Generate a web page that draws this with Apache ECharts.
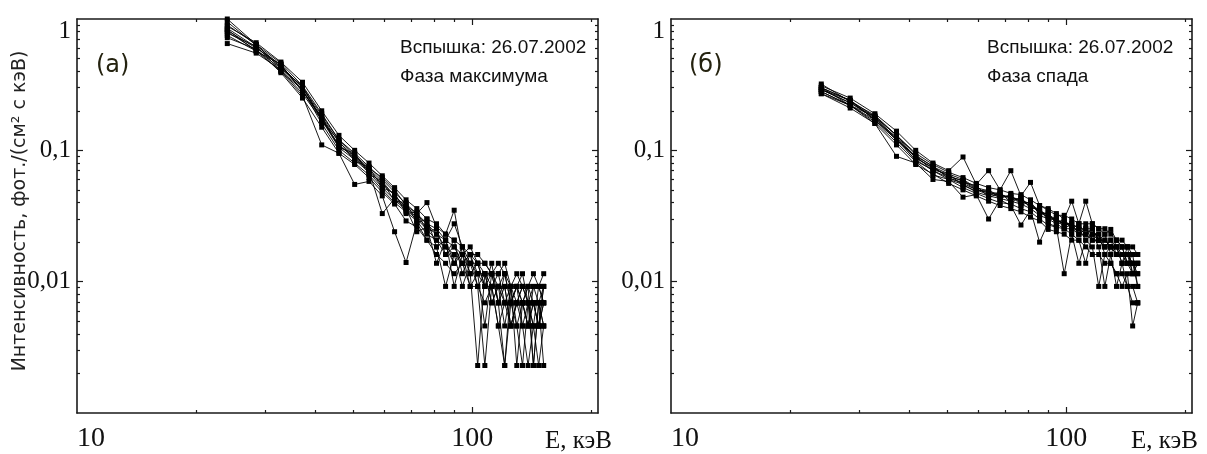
<!DOCTYPE html>
<html><head><meta charset="utf-8">
<script src="https://cdn.jsdelivr.net/npm/echarts@6/dist/echarts.min.js"></script>
<style>html,body{margin:0;padding:0;background:#fff}#c{width:1207px;height:454px}</style>
</head><body><div id="c"></div>
<script>
// Energy channels, keV
const energies = [24, 28.4, 32.8, 37.2, 41.6, 46, 50.4, 54.8, 59.2, 63.6, 68, 72.4, 76.8, 81.2, 85.6, 90, 94.4, 98.8, 103.2, 107.6, 112, 116.4, 120.8, 125.2, 129.6, 134, 138.4, 142.8, 147.2, 151.6];

// Tick labels / ticks
const xTickLabels = [10, 100];
const xMajorTicks = [100];
const xMinorTicks = [20, 30, 40, 50, 60, 70, 80, 90, 200];
const yTickLabels = [0.01, 0.1, 1];
const yMajorTicks = [0.01, 0.1];
const yMinorTicks = [0.002, 0.003, 0.004, 0.005, 0.006, 0.007, 0.008, 0.009, 0.02, 0.03, 0.04, 0.05, 0.06, 0.07, 0.08, 0.09, 0.2, 0.3, 0.4, 0.5, 0.6, 0.7, 0.8, 0.9];

// Panel (а): phase of maximum
const peak1 = [0.82,0.60,0.45,0.28,0.18,0.115,0.09,0.072,0.058,0.045,0.037,0.032,0.0276,0.023,0.0207,0.0184,0.0161,0.0138,0.0115,0.0115,0.0092,0.0092,0.0069,0.0092,0.0069,0.0069,0.0046,0.0069,0.0069,0.0046];
const peak2 = [0.78,0.62,0.40,0.29,0.16,0.10,0.08,0.065,0.05,0.04,0.034,0.029,0.023,0.0207,0.0161,0.0184,0.0138,0.0161,0.0115,0.0092,0.0115,0.0069,0.0092,0.0046,0.0069,0.0092,0.0069,0.0046,0.0092,0.0069];
const peak3 = [0.90,0.64,0.46,0.31,0.19,0.12,0.095,0.075,0.06,0.048,0.039,0.033,0.0276,0.0253,0.0207,0.0276,0.0184,0.0138,0.0138,0.0115,0.0115,0.0092,0.0115,0.0069,0.0092,0.0069,0.0092,0.0069,0.0046,0.0092];
const peak4 = [0.65,0.55,0.41,0.27,0.17,0.105,0.085,0.068,0.052,0.042,0.035,0.030,0.025,0.0207,0.0184,0.0138,0.0161,0.0115,0.0023,0.0115,0.0069,0.0092,0.0046,0.0092,0.0023,0.0069,0.0046,0.0092,0.0069,0.0023];
const peak5 = [0.85,0.61,0.43,0.30,0.175,0.108,0.09,0.07,0.055,0.046,0.036,0.031,0.026,0.023,0.0184,0.0161,0.0138,0.0161,0.0138,0.0092,0.0092,0.0115,0.0069,0.0069,0.0092,0.0046,0.0069,0.0069,0.0046,0.0069];
const peak6 = [0.80,0.58,0.42,0.29,0.17,0.11,0.087,0.07,0.033,0.043,0.036,0.024,0.026,0.0138,0.0207,0.0092,0.0161,0.0092,0.0115,0.0046,0.0115,0.0069,0.0023,0.0092,0.0046,0.0069,0.0092,0.0023,0.0069,0.0092];
const peak7 = [0.95,0.63,0.44,0.30,0.185,0.12,0.092,0.073,0.062,0.05,0.038,0.033,0.040,0.026,0.023,0.035,0.0161,0.0184,0.0138,0.0138,0.0115,0.0115,0.0138,0.0092,0.0115,0.0092,0.0092,0.0115,0.0092,0.0115];
const peak8 = [0.75,0.57,0.40,0.26,0.11,0.095,0.055,0.058,0.045,0.024,0.014,0.028,0.0207,0.0184,0.0092,0.0161,0.0092,0.0138,0.0092,0.0023,0.0092,0.0046,0.0023,0.0069,0.0046,0.0023,0.0069,0.0023,0.0069,0.0046];
const peak9 = [0.88,0.66,0.47,0.33,0.20,0.13,0.10,0.08,0.064,0.052,0.042,0.036,0.030,0.0276,0.023,0.0207,0.0184,0.0161,0.0161,0.0138,0.0115,0.0138,0.0115,0.0092,0.0092,0.0115,0.0069,0.0092,0.0092,0.0069];
const peak10 = [0.72,0.59,0.39,0.25,0.15,0.095,0.078,0.062,0.048,0.039,0.029,0.026,0.0207,0.0161,0.0138,0.0115,0.0138,0.0092,0.0092,0.0069,0.0092,0.0046,0.0069,0.0046,0.0069,0.0046,0.0023,0.0046,0.0046,0.0069];
const peak11 = [0.83,0.57,0.45,0.28,0.18,0.105,0.095,0.066,0.058,0.041,0.040,0.028,0.030,0.0184,0.0207,0.0138,0.0184,0.0115,0.0138,0.0092,0.0138,0.0069,0.0115,0.0069,0.0092,0.0069,0.0046,0.0069,0.0046,0.0092];
const peak12 = [1.0,0.64,0.42,0.31,0.17,0.118,0.083,0.074,0.052,0.047,0.033,0.034,0.024,0.0253,0.0161,0.0207,0.0115,0.0161,0.0092,0.0115,0.0069,0.0092,0.0092,0.0046,0.0069,0.0092,0.0069,0.0046,0.0023,0.0046];

// Panel (б): decay phase
const decay1 = [0.30,0.24,0.18,0.13,0.092,0.075,0.066,0.06,0.052,0.049,0.046,0.044,0.042,0.039,0.035,0.032,0.030,0.0276,0.0276,0.0253,0.023,0.0253,0.0207,0.0207,0.0184,0.0184,0.0161,0.0161,0.0138,0.0138];
const decay2 = [0.28,0.22,0.17,0.12,0.085,0.07,0.06,0.055,0.048,0.045,0.043,0.041,0.039,0.036,0.032,0.030,0.0276,0.0253,0.0253,0.023,0.023,0.0207,0.0207,0.0184,0.0184,0.0161,0.0161,0.0138,0.0115,0.0115];
const decay3 = [0.31,0.25,0.19,0.14,0.10,0.08,0.07,0.089,0.055,0.07,0.05,0.07,0.045,0.057,0.038,0.036,0.033,0.030,0.041,0.0276,0.041,0.0276,0.0253,0.023,0.025,0.0207,0.0184,0.0184,0.0161,0.0161];
const decay4 = [0.27,0.21,0.16,0.09,0.08,0.06,0.058,0.044,0.046,0.030,0.042,0.038,0.027,0.035,0.020,0.028,0.026,0.0115,0.023,0.0207,0.0138,0.023,0.0184,0.0092,0.0161,0.0092,0.0138,0.0092,0.0069,0.0069];
const decay5 = [0.29,0.23,0.175,0.125,0.088,0.073,0.064,0.058,0.05,0.048,0.045,0.044,0.041,0.038,0.034,0.031,0.029,0.028,0.0276,0.0253,0.0253,0.023,0.0207,0.0207,0.0184,0.0161,0.0161,0.0161,0.0138,0.0115];
const decay6 = [0.30,0.24,0.17,0.12,0.09,0.07,0.062,0.056,0.05,0.046,0.048,0.04,0.044,0.036,0.036,0.029,0.031,0.0253,0.0276,0.023,0.0253,0.0207,0.023,0.0184,0.0207,0.0184,0.0138,0.0184,0.0115,0.0138];
const decay7 = [0.29,0.23,0.18,0.13,0.087,0.074,0.063,0.059,0.051,0.047,0.044,0.045,0.04,0.04,0.033,0.033,0.028,0.030,0.0253,0.0276,0.023,0.0253,0.0207,0.023,0.0161,0.0207,0.0184,0.0138,0.0161,0.0092];
const decay8 = [0.28,0.22,0.165,0.115,0.082,0.065,0.06,0.052,0.047,0.043,0.04,0.039,0.036,0.034,0.03,0.027,0.026,0.0253,0.023,0.0138,0.0207,0.0184,0.0092,0.0161,0.0138,0.0115,0.0092,0.0115,0.0046,0.0069];
const decay9 = [0.32,0.235,0.185,0.13,0.095,0.078,0.068,0.062,0.056,0.052,0.05,0.047,0.046,0.042,0.038,0.035,0.032,0.032,0.030,0.0276,0.0276,0.0276,0.0253,0.0253,0.023,0.0207,0.0207,0.0184,0.0184,0.0161];
const decay10 = [0.27,0.22,0.16,0.11,0.078,0.066,0.056,0.05,0.045,0.041,0.038,0.036,0.034,0.031,0.029,0.025,0.024,0.023,0.0207,0.0207,0.0184,0.0161,0.0161,0.0138,0.0138,0.0115,0.0115,0.0092,0.0092,0.0069];
const decay11 = [0.30,0.22,0.18,0.12,0.09,0.076,0.061,0.057,0.054,0.044,0.047,0.042,0.043,0.037,0.035,0.031,0.030,0.027,0.0276,0.023,0.0253,0.0253,0.0207,0.0184,0.0207,0.0161,0.0184,0.0138,0.0138,0.0092];
const decay12 = [0.29,0.24,0.17,0.125,0.083,0.071,0.066,0.054,0.049,0.05,0.043,0.046,0.038,0.041,0.032,0.034,0.027,0.029,0.025,0.0253,0.0207,0.023,0.023,0.0161,0.0184,0.0184,0.0138,0.0161,0.0115,0.0138];

const peakSeries = [peak1, peak2, peak3, peak4, peak5, peak6, peak7, peak8, peak9, peak10, peak11, peak12];
const decaySeries = [decay1, decay2, decay3, decay4, decay5, decay6, decay7, decay8, decay9, decay10, decay11, decay12];

const AX = '#1a1a1a';
const X_MIN = 10, X_MAX = 208, Y_MIN = 0.001, Y_MAX = 1;

function xAxesFor(g) {
  const base = {type: 'log', logBase: 10, min: X_MIN, max: X_MAX, gridIndex: g,
    splitLine: {show: false}, axisLine: {show: false, onZero: false}, axisLabel: {show: false}, axisTick: {show: false}};
  const tick = (vals, len) => ({show: true, inside: true, length: len, customValues: vals, lineStyle: {color: AX, width: 1.2}});
  return [
    Object.assign({}, base, {position: 'bottom', axisLine: {show: true, onZero: false, lineStyle: {color: AX, width: 1.6}},
      axisTick: tick(xMajorTicks, 6),
      axisLabel: {show: true, customValues: xTickLabels, alignMinLabel: 'left', fontFamily: 'Liberation Serif', fontSize: 28, color: '#111', margin: 12,
        formatter: v => String(v)}}),
    Object.assign({}, base, {position: 'bottom', axisTick: tick(xMinorTicks, 3)}),
    Object.assign({}, base, {position: 'top', axisLine: {show: true, onZero: false, lineStyle: {color: AX, width: 1.6}}, axisTick: tick(xMajorTicks, 6)}),
    Object.assign({}, base, {position: 'top', axisTick: tick(xMinorTicks, 3)})
  ];
}
function yAxesFor(g) {
  const base = {type: 'log', logBase: 10, min: Y_MIN, max: Y_MAX, gridIndex: g,
    splitLine: {show: false}, axisLine: {show: false, onZero: false}, axisLabel: {show: false}, axisTick: {show: false}};
  const tick = (vals, len) => ({show: true, inside: true, length: len, customValues: vals, lineStyle: {color: AX, width: 1.2}});
  return [
    Object.assign({}, base, {position: 'left', axisLine: {show: true, onZero: false, lineStyle: {color: AX, width: 1.6}},
      axisTick: tick(yMajorTicks, 6),
      axisLabel: {show: true, customValues: yTickLabels, verticalAlignMaxLabel: 'top', fontFamily: 'Liberation Serif', fontSize: 25, color: '#111', margin: 6,
        formatter: v => String(v).replace('.', ',')}}),
    Object.assign({}, base, {position: 'left', axisTick: tick(yMinorTicks, 3)}),
    Object.assign({}, base, {position: 'right', axisLine: {show: true, onZero: false, lineStyle: {color: AX, width: 1.6}}, axisTick: tick(yMajorTicks, 6)}),
    Object.assign({}, base, {position: 'right', axisTick: tick(yMinorTicks, 3)})
  ];
}

function seriesFor(list, axisIndex) {
  return list.map((vals, i) => ({
    type: 'line', xAxisIndex: axisIndex, yAxisIndex: axisIndex, name: 's' + axisIndex + '_' + i,
    data: energies.map((e, k) => [e, vals[k]]),
    symbol: 'rect', symbolSize: 5, showSymbol: true,
    lineStyle: {color: '#000', width: 0.9}, itemStyle: {color: '#000'},
    silent: true, animation: false
  }));
}

const TXT = '#111';
const chart = echarts.init(document.getElementById('c'), null, {renderer: 'canvas'});
chart.setOption({
  animation: false,
  backgroundColor: '#fff',
  grid: [
    {left: 77, top: 19, width: 521, height: 394},
    {left: 671, top: 19, width: 521, height: 394}
  ],
  xAxis: xAxesFor(0).concat(xAxesFor(1)),
  yAxis: yAxesFor(0).concat(yAxesFor(1)),
  series: seriesFor(peakSeries, 0).concat(seriesFor(decaySeries, 4)),
  graphic: [
    {type: 'text', x: 20, y: 211, rotation: Math.PI / 2, style: {text: 'Интенсивность, фот./(см² с кэВ)', font: '19px "DejaVu Sans"', fill: '#222', textAlign: 'center', textVerticalAlign: 'middle'}},
    {type: 'text', x: 96, y: 66, style: {text: '(а)', font: '24px "DejaVu Sans"', fill: '#24220f', textAlign: 'left', textVerticalAlign: 'middle'}},
    {type: 'text', x: 689, y: 66, style: {text: '(б)', font: '24px "DejaVu Sans"', fill: '#24220f', textAlign: 'left', textVerticalAlign: 'middle'}},
    {type: 'text', x: 400, y: 48, style: {text: 'Вспышка: 26.07.2002', font: '19px "Liberation Sans"', fill: TXT, textAlign: 'left', textVerticalAlign: 'middle'}},
    {type: 'text', x: 400, y: 77, style: {text: 'Фаза максимума', font: '19px "Liberation Sans"', fill: TXT, textAlign: 'left', textVerticalAlign: 'middle'}},
    {type: 'text', x: 987, y: 48, style: {text: 'Вспышка: 26.07.2002', font: '19px "Liberation Sans"', fill: TXT, textAlign: 'left', textVerticalAlign: 'middle'}},
    {type: 'text', x: 987, y: 77, style: {text: 'Фаза спада', font: '19px "Liberation Sans"', fill: TXT, textAlign: 'left', textVerticalAlign: 'middle'}},
    {type: 'text', x: 545, y: 441, style: {text: 'E, кэВ', font: '25px "Liberation Serif"', fill: TXT, textAlign: 'left', textVerticalAlign: 'middle'}},
    {type: 'text', x: 1131, y: 441, style: {text: 'E, кэВ', font: '25px "Liberation Serif"', fill: TXT, textAlign: 'left', textVerticalAlign: 'middle'}}
  ]
});
</script>
</body></html>
